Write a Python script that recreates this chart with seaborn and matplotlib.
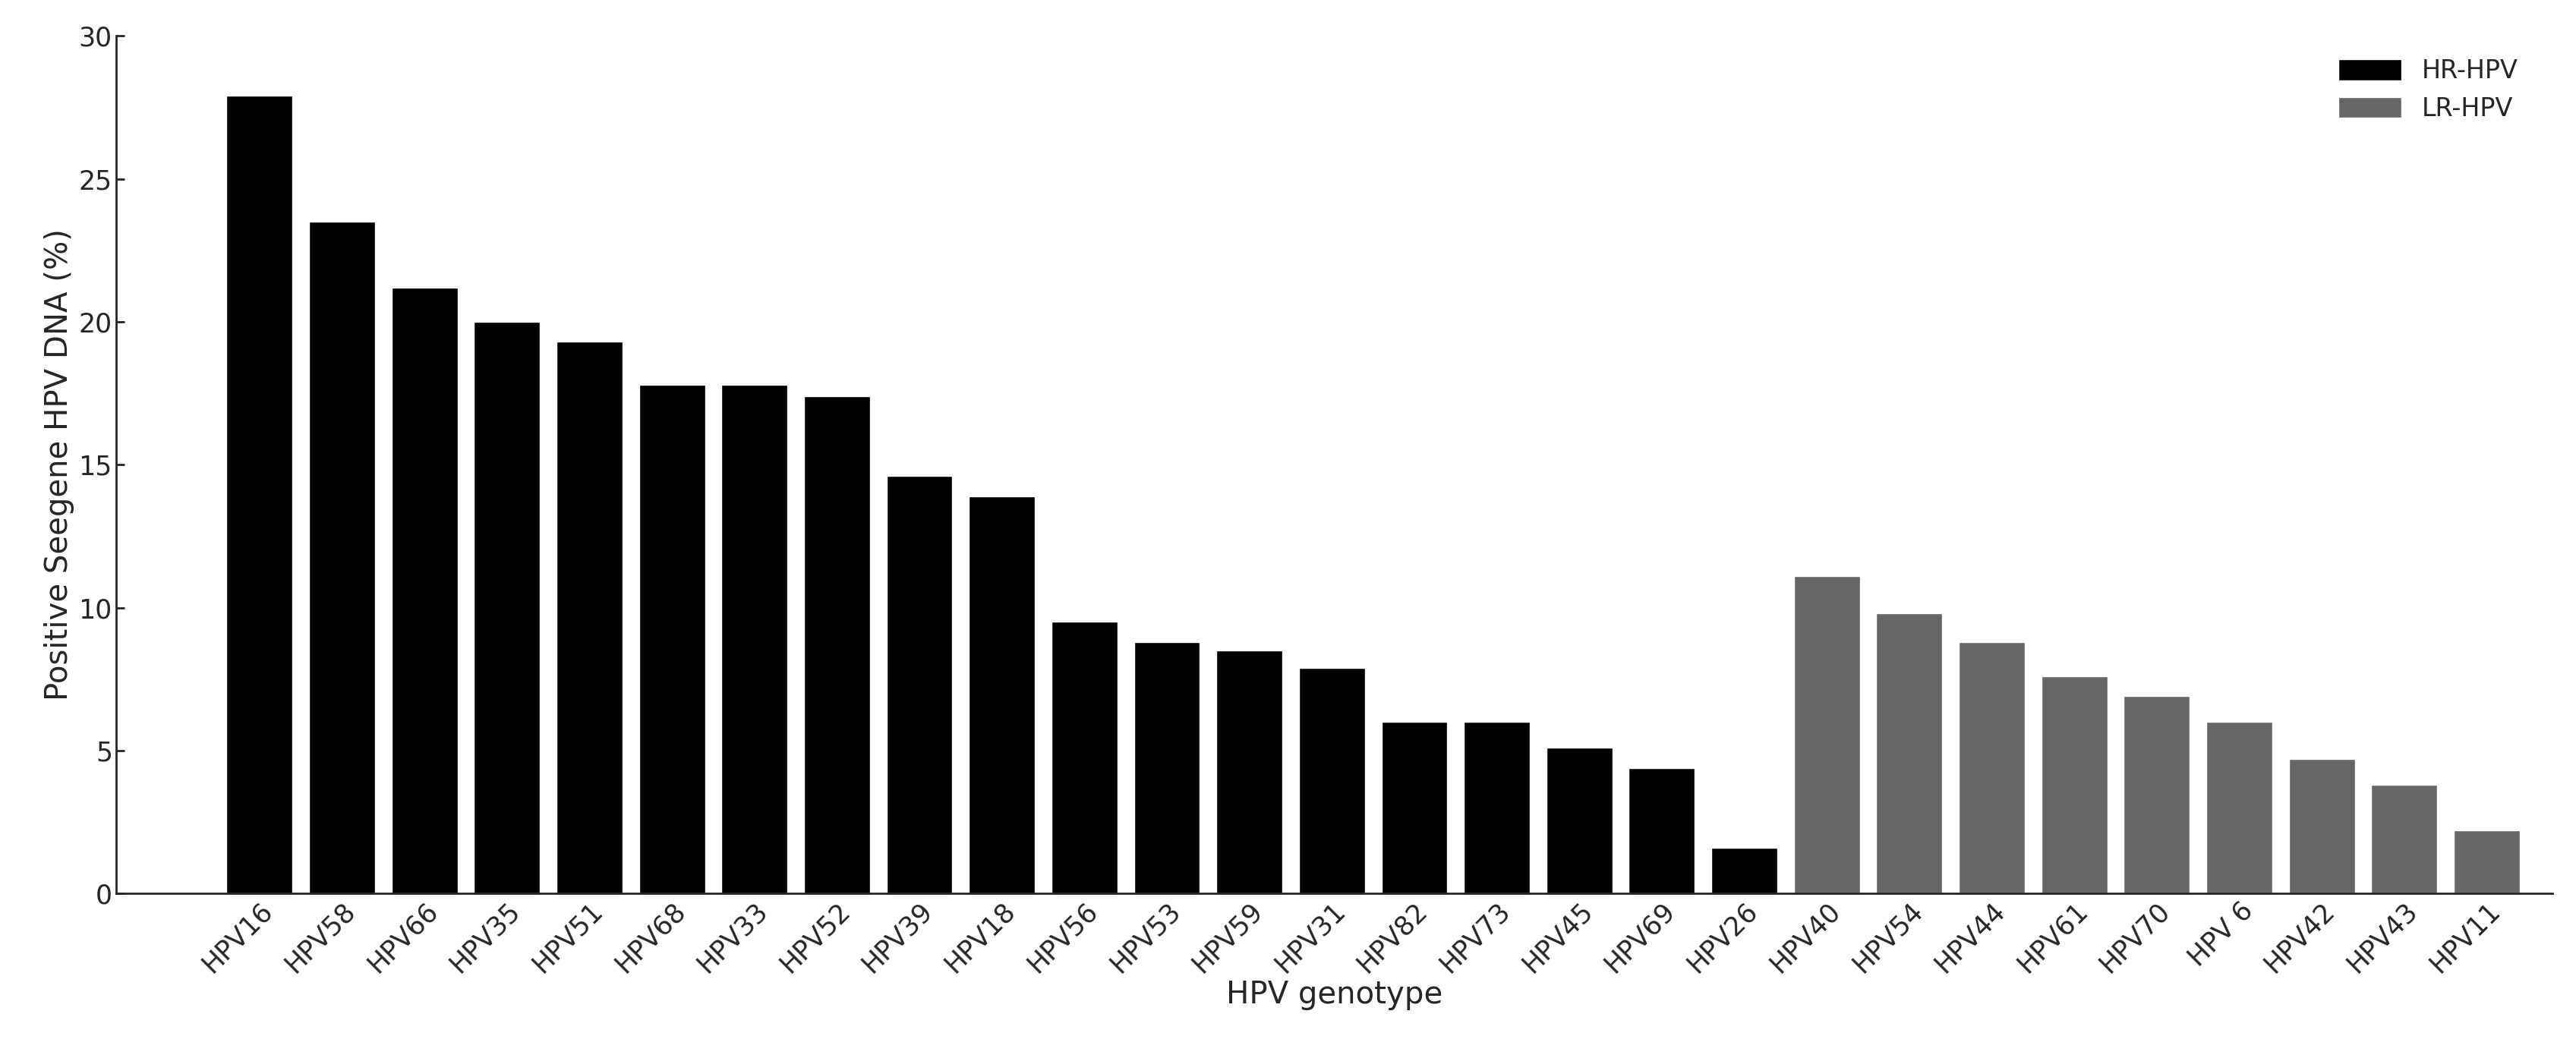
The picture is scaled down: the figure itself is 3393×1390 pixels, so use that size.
import matplotlib
matplotlib.use("Agg")
import matplotlib.pyplot as plt
import seaborn as sns
import pandas as pd

hr_labels = ["HPV16","HPV58","HPV66","HPV35","HPV51","HPV68","HPV33","HPV52","HPV39","HPV18",
             "HPV56","HPV53","HPV59","HPV31","HPV82","HPV73","HPV45","HPV69","HPV26"]
hr_values = [27.9,23.5,21.2,20.0,19.3,17.8,17.8,17.4,14.6,13.9,9.5,8.8,8.5,7.9,6.0,6.0,5.1,4.4,1.6]
lr_labels = ["HPV40","HPV54","HPV44","HPV61","HPV70","HPV 6","HPV42","HPV43","HPV11"]
lr_values = [11.1,9.8,8.8,7.6,6.9,6.0,4.7,3.8,2.2]

df = pd.DataFrame({
    "genotype": hr_labels + lr_labels,
    "value": hr_values + lr_values,
    "group": ["HR-HPV"]*len(hr_labels) + ["LR-HPV"]*len(lr_labels),
})

sns.set_theme(style="ticks")
plt.rcParams['font.family'] = ['DejaVu Sans']
fig = plt.figure(figsize=(33.93, 13.9), dpi=100)
ax = fig.add_axes([0.045, 0.153, 0.946, 0.813])
sns.barplot(data=df, x="genotype", y="value", hue="group", dodge=False,
            palette={"HR-HPV": "#000000", "LR-HPV": "#666666"}, width=0.8,
            saturation=1, ax=ax, order=df["genotype"])
ax.set_xlim(-1.74, 27.8)
ax.set_ylim(0, 30)
ax.set_yticks([0,5,10,15,20,25,30])
sns.despine(ax=ax)
ax.spines['left'].set_linewidth(2)
ax.spines['bottom'].set_linewidth(2)
ax.tick_params(direction='in', length=8, width=2, labelsize=25)
ax.tick_params(axis='x', length=0)
plt.setp(ax.get_xticklabels(), rotation=45, ha='right', rotation_mode='anchor')
ax.set_xlabel("HPV genotype", fontsize=29, labelpad=2)
ax.set_ylabel("Positive Seegene HPV DNA (%)", fontsize=29)
leg = ax.legend(loc='upper right', frameon=False, fontsize=24, handlelength=2.5, handleheight=0.9,
                bbox_to_anchor=(0.995, 1.0))
fig.savefig("out.png", dpi=100)
